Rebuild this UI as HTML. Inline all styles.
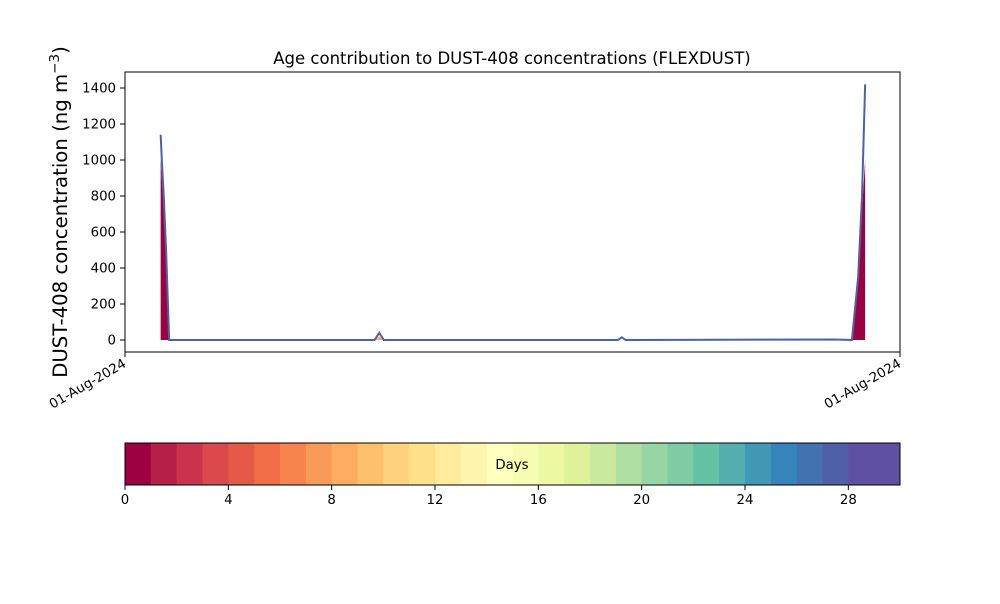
<!DOCTYPE html>
<html><head><meta charset="utf-8"><style>
body{margin:0;background:#fff;font-family:"DejaVu Sans",sans-serif}
</style></head><body>
<svg id="c" width="1000" height="600" xmlns="http://www.w3.org/2000/svg" font-family="DejaVu Sans, sans-serif">
<rect width="1000" height="600" fill="#fff"/>
<g id="plot"></g>
<rect x="125" y="72" width="775" height="280" fill="none" stroke="#000" stroke-width="1"/>
<text x="512" y="64" text-anchor="middle" font-size="16.5">Age contribution to DUST-408 concentrations (FLEXDUST)</text>
<text transform="translate(67,212) rotate(-90)" text-anchor="middle" font-size="19.7">DUST-408 concentration (ng m<tspan dy="-8" font-size="13.5">−3</tspan><tspan dy="8">)</tspan></text>
<g id="yticks"></g>
<g id="xticks"></g>
<g id="cbar"></g>
</svg>
<script>
const times=[4.6,4.75,5.0,5.3,5.5,5.7,6.5,30,32.2,32.8,33.4,40,63.6,64.1,64.6,91.5,93.8,94.6,95.1,95.5];
const totalVals=[1140,1000,800,500,250,0,0,0,0,40,0,0,0,15,0,3,0,350,800,1420];
const day0Vals=[1010,900,720,450,220,0,0,0,0,0,0,0,0,0,0,0,0,320,720,1000];
const day10Vals=[0,0,0,0,0,0,0,0,0,20,0,0,0,0,0,0,0,0,0,0];
const yTicks=[0,200,400,600,800,1000,1200,1400];
const xTickLabels=["01-Aug-2024","01-Aug-2024"];
const cbarTicks=[0,4,8,12,16,20,24,28];
const spectral=["#9e0142","#b51f48","#cb334c","#dc494c","#e65949","#f06d45","#f7834d","#fa9a58","#fcad62","#fdc06d","#fed27f","#fee08b","#feeb9d","#fff5ae","#ffffbe","#f7fcb3","#edf8a2","#dff299","#c9e99e","#b0dfa3","#98d5a4","#7ecba4","#66c2a5","#53aead","#4199b6","#3585bb","#4372b1","#5060a8","#5e4fa2","#5e4fa2"];
const NS="http://www.w3.org/2000/svg";
const xs=t=>125+t*7.75, ys=v=>340-v*0.18;
function mk(tag,at,parent){const e=document.createElementNS(NS,tag);for(const k in at)e.setAttribute(k,at[k]);parent.appendChild(e);return e;}
const plot=document.getElementById('plot');
function area(vals,base,color,name){
  let d="M"+xs(times[0])+","+ys(base[0]);
  times.forEach((t,i)=>d+="L"+xs(t)+","+ys(base[i]+vals[i]));
  for(let i=times.length-1;i>=0;i--)d+="L"+xs(times[i])+","+ys(base[i]);
  const p=mk('path',{d:d+"Z",fill:color},plot);
  
  
}
const zero=times.map(()=>0);
area(day0Vals,zero,"#9e0142","area-day0");
area(day10Vals,day0Vals,"#fdae61","area-day10");
let ld="";times.forEach((t,i)=>ld+=(i?"L":"M")+xs(t)+","+ys(totalVals[i]));
const line=mk('path',{d:ld,fill:"none",stroke:"#4a62aa","stroke-width":2},plot);


const yt=document.getElementById('yticks');
yTicks.forEach(v=>{
  mk('line',{x1:120,x2:125,y1:ys(v),y2:ys(v),stroke:"#000"},yt);
  const tx=mk('text',{x:116,y:ys(v)+4.5,"text-anchor":"end","font-size":13.3},yt);tx.textContent=v;
  
  
});
const xt=document.getElementById('xticks');
[125,900].forEach((x,i)=>{
  mk('line',{x1:x,x2:x,y1:352,y2:357,stroke:"#000"},xt);
  const tx=mk('text',{transform:`translate(${x+2},366) rotate(-30)`,"text-anchor":"end","font-size":13.3},xt);tx.textContent=xTickLabels[i];
  
  
});
const cb=document.getElementById('cbar');
const cw=775/30;
spectral.forEach((c,i)=>{
  const r=mk('rect',{x:125+i*cw,y:443,width:cw+0.5,height:42,fill:c},cb);
  
  
});
const fr=mk('rect',{x:125,y:443,width:775,height:42,fill:"none",stroke:"#000"},cb);


const lab=mk('text',{x:512,y:469,"text-anchor":"middle","font-size":13.3},cb);lab.textContent="Days";


cbarTicks.forEach(v=>{
  const x=125+v*cw;
  mk('line',{x1:x,x2:x,y1:485,y2:490,stroke:"#000"},cb);
  const tx=mk('text',{x:x,y:504,"text-anchor":"middle","font-size":13.3},cb);tx.textContent=v;
  
  
});
</script>
</body></html>
